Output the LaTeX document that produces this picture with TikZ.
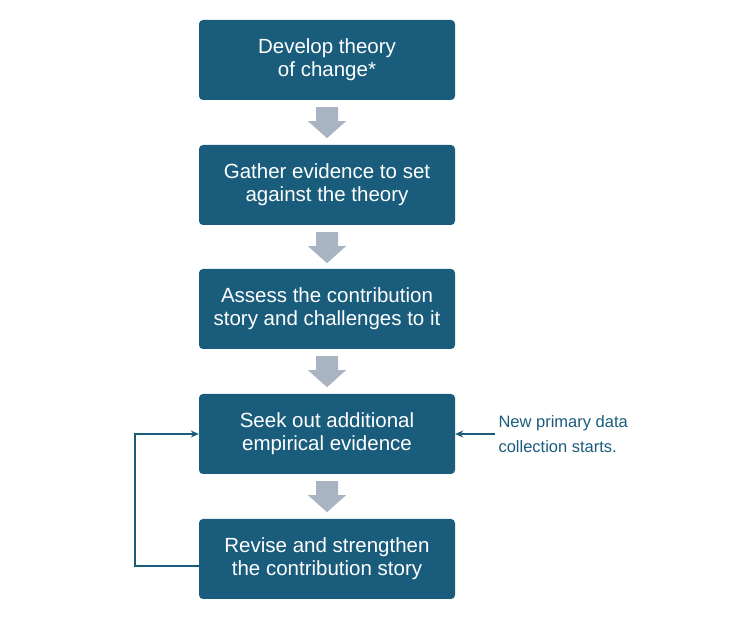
\documentclass[tikz,border=0pt]{standalone}
\usepackage{fontspec}
\setmainfont{Liberation Sans}
\usetikzlibrary{arrows.meta}
\definecolor{teal}{HTML}{1A5C7C}
\definecolor{garrow}{HTML}{A9B4C2}
\begin{document}
\begin{tikzpicture}[x=1pt,y=1pt,
 box/.style={fill=teal,draw=none,rounded corners=4pt,minimum width=256pt,minimum height=80pt,text=white,align=center,font=\fontsize{20.5}{23}\selectfont},
 lnk/.style={draw=teal,line width=1.2pt,-{Stealth[length=8pt,width=7pt]}}]
\useasboundingbox (0,0) rectangle (734,626);
\node[box] (b1) at (327,566) {Develop theory\\of change*};
\node[box] (b2) at (327,441) {Gather evidence to set\\against the theory};
\node[box] (b3) at (327,317) {Assess the contribution\\story and challenges to it};
\node[box] (b4) at (327,192) {Seek out additional\\empirical evidence};
\node[box] (b5) at (327,67) {Revise and strengthen\\the contribution story};
\foreach \a/\b in {b1/b2,b2/b3,b3/b4,b4/b5}{
 \path (\a.south) ++(0,-7) coordinate (t);
 \fill[garrow] (t) ++(-11,0) -- ++(22,0) -- ++(0,-14) -- ++(8,0) -- ++(-19,-17) -- ++(-19,17) -- ++(8,0) -- cycle;
}
\coordinate (c1) at (135,60);
\coordinate (c2) at (135,192);
\draw[lnk] (b5.west |- c1) -- (c1) -- (c2) -- (b4.west);
\node[text=teal,align=left,anchor=west,font=\fontsize{16.5}{25}\selectfont] (note) at (495,192) {New primary data\\collection starts.};
\draw[lnk] (note.west) -- (b4.east);
\end{tikzpicture}
\end{document}
